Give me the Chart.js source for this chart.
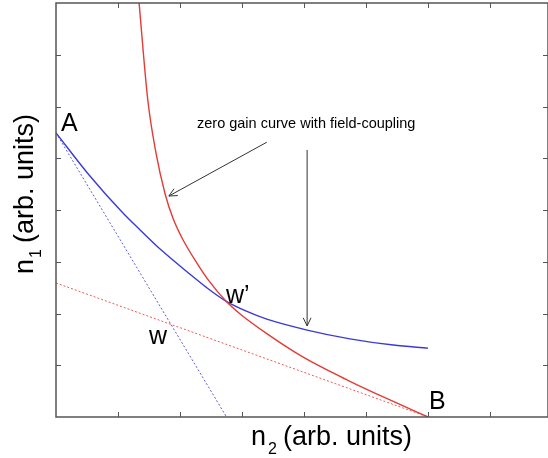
<!DOCTYPE html>
<html>
<head>
<meta charset="utf-8">
<script src="https://cdn.jsdelivr.net/npm/chart.js@4.4.1/dist/chart.umd.min.js"></script>
<style>
  html, body { margin: 0; padding: 0; background: #fff; }
  #wrap { width: 548px; height: 458px; position: relative; }
</style>
</head>
<body>
<div id="wrap"><canvas id="gainChart"></canvas></div>
<script>
// values (arb. units)
const redN2  = [1.34, 1.48, 1.61, 1.76, 1.89, 2.05, 2.27, 2.48, 2.74, 2.97, 3.40, 3.98, 4.74, 5.44, 6.00];
const redN1  = [8.00, 6.13, 5.12, 4.31, 3.83, 3.42, 2.98, 2.61, 2.24, 1.99, 1.61, 1.16, 0.69, 0.30, 0.00];
const blueN2 = [0.00, 0.53, 1.08, 1.36, 1.62, 1.89, 2.16, 2.43, 2.74, 3.08, 3.40, 4.05, 4.74, 5.44, 6.00];
const blueN1 = [5.49, 4.68, 3.94, 3.61, 3.31, 3.03, 2.76, 2.50, 2.24, 2.04, 1.89, 1.68, 1.51, 1.39, 1.33];
const blueDotN2 = [0.00, 2.75];
const blueDotN1 = [5.49, 0.00];
const redDotN2  = [0.00, 6.00];
const redDotN1  = [2.59, 0.00];
const tickVals = [1, 2, 3, 4, 5, 6, 7];

const pts = (xs, ys) => xs.map((x, i) => ({ x: x, y: ys[i] }));

const FONT = '"Liberation Sans", Arial, Helvetica, sans-serif';

// box, inward ticks, labels, arrows
const decor = {
    id: 'decor',
    afterDraw(chart) {
        const { ctx, chartArea: a, scales: { x, y } } = chart;
        ctx.save();
        ctx.strokeStyle = '#555';
        ctx.lineWidth = 1.5;
        ctx.strokeRect(a.left, a.top, a.right - a.left, a.bottom - a.top);
        ctx.lineWidth = 1;
        ctx.beginPath();
        tickVals.forEach(v => {
            const px = Math.round(x.getPixelForValue(v)) + 0.5;
            ctx.moveTo(px, a.bottom); ctx.lineTo(px, a.bottom - 5);
            ctx.moveTo(px, a.top); ctx.lineTo(px, a.top + 5);
            const py = Math.round(y.getPixelForValue(v)) + 0.5;
            ctx.moveTo(a.left, py); ctx.lineTo(a.left + 5, py);
            ctx.moveTo(a.right, py); ctx.lineTo(a.right - 5, py);
        });
        ctx.stroke();

        // arrows
        const arrow = (x0, y0, x1, y1) => {
            const p0 = [x.getPixelForValue(x0), y.getPixelForValue(y0)];
            const p1 = [x.getPixelForValue(x1), y.getPixelForValue(y1)];
            const ang = Math.atan2(p1[1] - p0[1], p1[0] - p0[0]);
            ctx.beginPath();
            ctx.moveTo(p0[0], p0[1]); ctx.lineTo(p1[0], p1[1]);
            [0.45, -0.45].forEach(d => {
                ctx.moveTo(p1[0], p1[1]);
                ctx.lineTo(p1[0] - 9 * Math.cos(ang + d), p1[1] - 9 * Math.sin(ang + d));
            });
            ctx.stroke();
        };
        ctx.strokeStyle = '#333';
        ctx.lineWidth = 1;
        arrow(3.40, 5.31, 1.82, 4.27);
        arrow(4.05, 5.16, 4.05, 1.76);

        ctx.fillStyle = '#000';
        ctx.textBaseline = 'alphabetic';
        ctx.font = '14.5px ' + FONT;
        ctx.fillText('zero gain curve with field-coupling', 197, 128);

        ctx.font = '25px ' + FONT;
        ctx.fillText('A', 61, 131);
        ctx.fillText('B', 429, 409);
        ctx.fillText('w', 149, 344);
        ctx.fillText('w\u2019', 226, 303);

        // axis titles with subscripts
        ctx.font = '27px ' + FONT;
        ctx.fillText('n', 251, 445);
        ctx.font = '16px ' + FONT;
        ctx.fillText('2', 268, 454);
        ctx.font = '27px ' + FONT;
        ctx.fillText('(arb. units)', 283, 445);

        ctx.translate(33, 274);
        ctx.rotate(-Math.PI / 2);
        ctx.fillText('n', 0, 0);
        ctx.font = '16px ' + FONT;
        ctx.fillText('1', 16, 8);
        ctx.font = '27px ' + FONT;
        ctx.fillText('(arb. units)', 31, 0);
        ctx.restore();
    }
};

new Chart(document.getElementById('gainChart').getContext('2d'), {
    type: 'line',
    data: {
        datasets: [
            { data: pts(redN2, redN1), borderColor: '#e33b35', borderWidth: 1.4, cubicInterpolationMode: 'monotone' },
            { data: pts(blueN2, blueN1), borderColor: '#3a3ad6', borderWidth: 1.4, cubicInterpolationMode: 'monotone' },
            { data: pts(blueDotN2, blueDotN1), borderColor: '#5a5ae0', borderWidth: 1, borderDash: [2, 2] },
            { data: pts(redDotN2, redDotN1), borderColor: '#ee5a55', borderWidth: 1, borderDash: [2, 2] }
        ]
    },
    options: {
        responsive: true, maintainAspectRatio: false,
        animation: false,
        layout: { padding: { left: 56, top: 3, right: 0, bottom: 41 } },
        elements: { point: { radius: 0 } },
        plugins: { legend: { display: false }, tooltip: { enabled: false } },
        scales: {
            x: { type: 'linear', min: 0, max: 7.935, display: false },
            y: { type: 'linear', min: 0, max: 8, display: false }
        }
    },
    plugins: [decor]
});
</script>
</body>
</html>
